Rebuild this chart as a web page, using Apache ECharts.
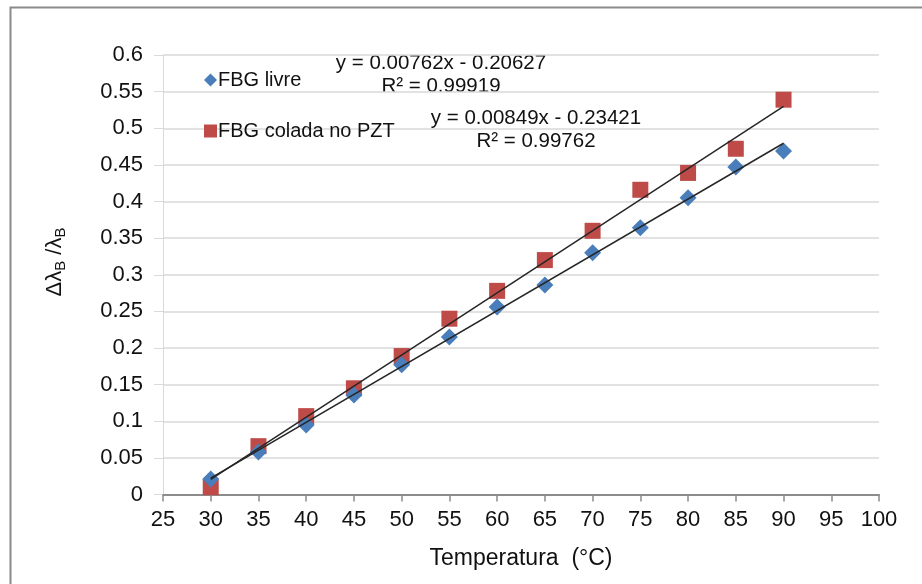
<!DOCTYPE html>
<html>
<head>
<meta charset="utf-8">
<script src="https://cdn.jsdelivr.net/npm/echarts@6/dist/echarts.min.js"></script>
<style>html,body{margin:0;padding:0;background:#fff;}#c{width:922px;height:584px;}</style>
</head>
<body>
<div id="c"></div>
<script>
const temps = [30, 35, 40, 45, 50, 55, 60, 65, 70, 75, 80, 85, 90];
const livre = [0.021, 0.058, 0.095, 0.136, 0.177, 0.215, 0.256, 0.286, 0.330, 0.364, 0.405, 0.447, 0.469];
const colada = [0.010, 0.066, 0.107, 0.145, 0.189, 0.240, 0.278, 0.320, 0.360, 0.416, 0.439, 0.472, 0.539];
const trendLivre = [[30, 0.0223], [90, 0.4795]];
const trendColada = [[30, 0.0205], [90, 0.5299]];
const eqLivre = ['y = 0.00762x - 0.20627', 'R² = 0.99919'];
const eqColada = ['y = 0.00849x - 0.23421', 'R² = 0.99762'];
const seriesNames = ['FBG livre', 'FBG colada no PZT'];

const font = 'Liberation Sans, Arial, sans-serif';
const chart = echarts.init(document.getElementById('c'));
chart.setOption({
  animation: false,
  backgroundColor: '#fff',
  textStyle: { fontFamily: font, color: '#000' },
  grid: { left: 163, right: 43, top: 55, bottom: 89.5, containLabel: false },
  legend: {
    orient: 'vertical', left: 199, top: 65, itemGap: 31, itemWidth: 13, itemHeight: 13,
    textStyle: { fontSize: 20, fontFamily: font, color: '#111', padding: [0, 0, 0, -4] },
    data: [{ name: seriesNames[0], icon: 'diamond' }, { name: seriesNames[1], icon: 'rect' }]
  },
  xAxis: {
    type: 'value', min: 25, max: 100, interval: 5,
    name: 'Temperatura  (°C)', nameLocation: 'middle', nameGap: 53,
    nameTextStyle: { fontSize: 23, fontFamily: font, color: '#111' },
    axisLine: { show: true, lineStyle: { color: '#8c8c8c', width: 2 } },
    axisTick: { show: true, length: 7, lineStyle: { color: '#8c8c8c', width: 1.5 } },
    axisLabel: { fontSize: 22, margin: 14, color: '#111', fontFamily: font },
    splitLine: { show: false }
  },
  yAxis: {
    type: 'value', min: 0, max: 0.6, interval: 0.05,
    axisLine: { show: true, lineStyle: { color: '#d9d9d9', width: 1 } },
    axisTick: { show: true, length: 9, lineStyle: { color: '#d9d9d9' } },
    axisLabel: { fontSize: 22, margin: 20, color: '#111', fontFamily: font },
    splitLine: { show: true, lineStyle: { color: '#d9d9d9', width: 1.5 } }
  },
  graphic: [
    { type: 'rect', left: 8, top: 5, shape: { width: 1000, height: 1000 }, style: { fill: 'none', stroke: '#8a8a8a', lineWidth: 2 }, z: 100 },
    { type: 'text', x: 55, y: 262, rotation: Math.PI / 2,
      style: { text: '{a|Δλ}{s|B}{a| /λ}{s|B}', align: 'center', verticalAlign: 'middle',
        rich: {
          a: { fontSize: 22, fontFamily: font, fill: '#111' },
          s: { fontSize: 15, fontFamily: font, fill: '#111', verticalAlign: 'bottom', padding: [12, 0, 0, 0] }
        } } },
    { type: 'text', x: 441, y: 63, style: { text: eqLivre[0], font: '20.5px ' + font, fill: '#111', align: 'center', verticalAlign: 'middle' } },
    { type: 'text', x: 441, y: 86, style: { text: eqLivre[1], font: '20.5px ' + font, fill: '#111', align: 'center', verticalAlign: 'middle' } },
    { type: 'text', x: 536, y: 118, style: { text: eqColada[0], font: '20.5px ' + font, fill: '#111', align: 'center', verticalAlign: 'middle' } },
    { type: 'text', x: 536, y: 141, style: { text: eqColada[1], font: '20.5px ' + font, fill: '#111', align: 'center', verticalAlign: 'middle' } }
  ],
  series: [
    {
      name: seriesNames[0], type: 'scatter', symbol: 'diamond', symbolSize: 17,
      itemStyle: { color: '#4A7EBB', opacity: 1 }, z: 3,
      data: temps.map((t, i) => [t, livre[i]])
    },
    {
      name: seriesNames[1], type: 'scatter', symbol: 'rect', symbolSize: 16,
      itemStyle: { color: '#BE4B48', opacity: 1 }, z: 2,
      data: temps.map((t, i) => [t, colada[i]])
    },
    {
      name: 'trend1', type: 'line', data: trendLivre, symbol: 'none', silent: true, z: 4,
      lineStyle: { color: '#262626', width: 1.5 }
    },
    {
      name: 'trend2', type: 'line', data: trendColada, symbol: 'none', silent: true, z: 4,
      lineStyle: { color: '#262626', width: 1.5 }
    }
  ]
});
</script>
</body>
</html>
